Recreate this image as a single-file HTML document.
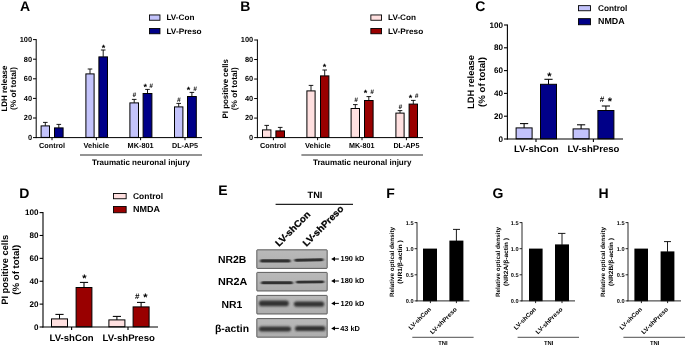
<!DOCTYPE html>
<html><head><meta charset="utf-8"><title>Figure</title>
<style>
html,body{margin:0;padding:0;background:#fff;}
body{width:685px;height:346px;overflow:hidden;font-family:"Liberation Sans",sans-serif;}
svg{display:block;}
svg text{font-family:"Liberation Sans",sans-serif;text-rendering:geometricPrecision;}
#all{filter:opacity(1);}
</style></head><body>
<svg width="685" height="346" viewBox="0 0 685 346">
<rect x="0" y="0" width="685" height="346" fill="#ffffff"/>
<g id="all">
<text x="20" y="11" font-size="14" font-weight="bold" text-anchor="start" fill="#000" >A</text>
<line x1="45.3" y1="122.4" x2="45.3" y2="125.9" stroke="#000" stroke-width="0.9"/>
<line x1="43.0" y1="122.4" x2="47.599999999999994" y2="122.4" stroke="#000" stroke-width="0.9"/>
<rect x="41.10" y="125.90" width="8.40" height="11.50" fill="#c3c3fb" stroke="#000" stroke-width="1.0"/>
<line x1="58.8" y1="124.4" x2="58.8" y2="127.9" stroke="#000" stroke-width="0.9"/>
<line x1="56.5" y1="124.4" x2="61.099999999999994" y2="124.4" stroke="#000" stroke-width="0.9"/>
<rect x="54.50" y="127.90" width="8.60" height="9.50" fill="#000088" stroke="#000" stroke-width="1.0"/>
<line x1="90.0" y1="69" x2="90.0" y2="73.9" stroke="#000" stroke-width="0.9"/>
<line x1="87.7" y1="69" x2="92.3" y2="69" stroke="#000" stroke-width="0.9"/>
<rect x="85.90" y="73.90" width="8.20" height="63.50" fill="#c3c3fb" stroke="#000" stroke-width="1.0"/>
<line x1="103.2" y1="50" x2="103.2" y2="56.9" stroke="#000" stroke-width="0.9"/>
<line x1="100.9" y1="50" x2="105.5" y2="50" stroke="#000" stroke-width="0.9"/>
<rect x="98.90" y="56.90" width="8.60" height="80.50" fill="#000088" stroke="#000" stroke-width="1.0"/>
<line x1="134.2" y1="99.4" x2="134.2" y2="102.9" stroke="#000" stroke-width="0.9"/>
<line x1="131.89999999999998" y1="99.4" x2="136.5" y2="99.4" stroke="#000" stroke-width="0.9"/>
<rect x="129.90" y="102.90" width="8.60" height="34.50" fill="#c3c3fb" stroke="#000" stroke-width="1.0"/>
<line x1="147.5" y1="89.4" x2="147.5" y2="93.5" stroke="#000" stroke-width="0.9"/>
<line x1="145.2" y1="89.4" x2="149.8" y2="89.4" stroke="#000" stroke-width="0.9"/>
<rect x="143.10" y="93.50" width="8.80" height="43.90" fill="#000088" stroke="#000" stroke-width="1.0"/>
<line x1="178.7" y1="103.4" x2="178.7" y2="106.9" stroke="#000" stroke-width="0.9"/>
<line x1="176.39999999999998" y1="103.4" x2="181.0" y2="103.4" stroke="#000" stroke-width="0.9"/>
<rect x="174.50" y="106.90" width="8.40" height="30.50" fill="#c3c3fb" stroke="#000" stroke-width="1.0"/>
<line x1="191.9" y1="92.4" x2="191.9" y2="96.5" stroke="#000" stroke-width="0.9"/>
<line x1="189.6" y1="92.4" x2="194.20000000000002" y2="92.4" stroke="#000" stroke-width="0.9"/>
<rect x="187.50" y="96.50" width="8.80" height="40.90" fill="#000088" stroke="#000" stroke-width="1.0"/>
<line x1="36.2" y1="39.1" x2="36.2" y2="138.1" stroke="#000" stroke-width="1.0"/>
<line x1="35.7" y1="137.6" x2="202" y2="137.6" stroke="#000" stroke-width="1.0"/>
<line x1="33.0" y1="137.6" x2="36.2" y2="137.6" stroke="#000" stroke-width="1.0"/>
<text x="32.0" y="139.95" font-size="7.4" font-weight="bold" text-anchor="end" fill="#000" >0</text>
<line x1="33.0" y1="118.0" x2="36.2" y2="118.0" stroke="#000" stroke-width="1.0"/>
<text x="32.0" y="120.35" font-size="7.4" font-weight="bold" text-anchor="end" fill="#000" >20</text>
<line x1="33.0" y1="98.39999999999999" x2="36.2" y2="98.39999999999999" stroke="#000" stroke-width="1.0"/>
<text x="32.0" y="100.75" font-size="7.4" font-weight="bold" text-anchor="end" fill="#000" >40</text>
<line x1="33.0" y1="78.8" x2="36.2" y2="78.8" stroke="#000" stroke-width="1.0"/>
<text x="32.0" y="81.15" font-size="7.4" font-weight="bold" text-anchor="end" fill="#000" >60</text>
<line x1="33.0" y1="59.19999999999999" x2="36.2" y2="59.19999999999999" stroke="#000" stroke-width="1.0"/>
<text x="32.0" y="61.55" font-size="7.4" font-weight="bold" text-anchor="end" fill="#000" >80</text>
<line x1="33.0" y1="39.599999999999994" x2="36.2" y2="39.599999999999994" stroke="#000" stroke-width="1.0"/>
<text x="32.0" y="41.95" font-size="7.4" font-weight="bold" text-anchor="end" fill="#000" >100</text>
<line x1="52" y1="137.6" x2="52" y2="140.2" stroke="#000" stroke-width="1.0"/>
<line x1="96.4" y1="137.6" x2="96.4" y2="140.2" stroke="#000" stroke-width="1.0"/>
<line x1="140.6" y1="137.6" x2="140.6" y2="140.2" stroke="#000" stroke-width="1.0"/>
<line x1="185" y1="137.6" x2="185" y2="140.2" stroke="#000" stroke-width="1.0"/>
<text x="39" y="148.0" font-size="7.3" font-weight="bold" text-anchor="start" fill="#000" textLength="26" lengthAdjust="spacingAndGlyphs" >Control</text>
<text x="83.6" y="148.0" font-size="7.3" font-weight="bold" text-anchor="start" fill="#000" textLength="25.4" lengthAdjust="spacingAndGlyphs" >Vehicle</text>
<text x="127.6" y="148.0" font-size="7.3" font-weight="bold" text-anchor="start" fill="#000" textLength="26.0" lengthAdjust="spacingAndGlyphs" >MK-801</text>
<text x="172" y="148.0" font-size="7.3" font-weight="bold" text-anchor="start" fill="#000" textLength="26" lengthAdjust="spacingAndGlyphs" >DL-AP5</text>
<line x1="80" y1="155" x2="202" y2="155" stroke="#2a2a2a" stroke-width="1.0"/>
<text x="92" y="164.8" font-size="8" font-weight="bold" text-anchor="start" fill="#000" textLength="98" lengthAdjust="spacingAndGlyphs" >Traumatic neuronal injury</text>
<text x="6.8" y="88.6" font-size="8" font-weight="bold" text-anchor="middle" fill="#000" textLength="46" lengthAdjust="spacingAndGlyphs" transform="rotate(-90 6.8 88.6)" >LDH release</text>
<text x="16.4" y="88.6" font-size="8" font-weight="bold" text-anchor="middle" fill="#000" textLength="43" lengthAdjust="spacingAndGlyphs" transform="rotate(-90 16.4 88.6)" >(% of total)</text>
<rect x="149.45" y="14.95" width="10.50" height="5.30" fill="#c3c3fb" stroke="#000" stroke-width="0.9"/>
<rect x="149.45" y="28.45" width="10.50" height="5.30" fill="#000088" stroke="#000" stroke-width="0.9"/>
<text x="166.4" y="20.0" font-size="8" font-weight="bold" text-anchor="start" fill="#000" textLength="28" lengthAdjust="spacingAndGlyphs" >LV-Con</text>
<text x="166.4" y="33.6" font-size="8" font-weight="bold" text-anchor="start" fill="#000" textLength="35.2" lengthAdjust="spacingAndGlyphs" >LV-Preso</text>
<text x="103.4" y="50.5" font-size="9" font-weight="bold" text-anchor="middle" fill="#000" >*</text>
<text x="134.3" y="97.2" font-size="6.5" font-weight="bold" text-anchor="middle" fill="#000" font-style="italic">#</text>
<text x="145.3" y="90.4" font-size="9" font-weight="bold" text-anchor="middle" fill="#000" >*</text>
<text x="151" y="88.1" font-size="6.5" font-weight="bold" text-anchor="middle" fill="#000" font-style="italic">#</text>
<text x="178.7" y="101.8" font-size="6.5" font-weight="bold" text-anchor="middle" fill="#000" font-style="italic">#</text>
<text x="188.5" y="93.4" font-size="9" font-weight="bold" text-anchor="middle" fill="#000" >*</text>
<text x="195" y="90.9" font-size="6.5" font-weight="bold" text-anchor="middle" fill="#000" font-style="italic">#</text>
<text x="240.3" y="11" font-size="14" font-weight="bold" text-anchor="start" fill="#000" >B</text>
<line x1="266.7" y1="125.4" x2="266.7" y2="129.9" stroke="#000" stroke-width="0.9"/>
<line x1="264.4" y1="125.4" x2="269.0" y2="125.4" stroke="#000" stroke-width="0.9"/>
<rect x="262.50" y="129.90" width="8.40" height="7.50" fill="#ffe0e0" stroke="#000" stroke-width="1.0"/>
<line x1="280.2" y1="127.4" x2="280.2" y2="130.9" stroke="#000" stroke-width="0.9"/>
<line x1="277.9" y1="127.4" x2="282.5" y2="127.4" stroke="#000" stroke-width="0.9"/>
<rect x="275.90" y="130.90" width="8.60" height="6.50" fill="#990000" stroke="#000" stroke-width="1.0"/>
<line x1="311.0" y1="85.4" x2="311.0" y2="90.9" stroke="#000" stroke-width="0.9"/>
<line x1="308.7" y1="85.4" x2="313.3" y2="85.4" stroke="#000" stroke-width="0.9"/>
<rect x="306.90" y="90.90" width="8.20" height="46.50" fill="#ffe0e0" stroke="#000" stroke-width="1.0"/>
<line x1="324.7" y1="70" x2="324.7" y2="75.9" stroke="#000" stroke-width="0.9"/>
<line x1="322.4" y1="70" x2="327.0" y2="70" stroke="#000" stroke-width="0.9"/>
<rect x="320.50" y="75.90" width="8.40" height="61.50" fill="#990000" stroke="#000" stroke-width="1.0"/>
<line x1="355.3" y1="104.6" x2="355.3" y2="108.5" stroke="#000" stroke-width="0.9"/>
<line x1="353.0" y1="104.6" x2="357.6" y2="104.6" stroke="#000" stroke-width="0.9"/>
<rect x="351.10" y="108.50" width="8.40" height="28.90" fill="#ffe0e0" stroke="#000" stroke-width="1.0"/>
<line x1="368.8" y1="96.6" x2="368.8" y2="100.5" stroke="#000" stroke-width="0.9"/>
<line x1="366.5" y1="96.6" x2="371.1" y2="96.6" stroke="#000" stroke-width="0.9"/>
<rect x="364.50" y="100.50" width="8.60" height="36.90" fill="#990000" stroke="#000" stroke-width="1.0"/>
<line x1="400.0" y1="110.6" x2="400.0" y2="113.1" stroke="#000" stroke-width="0.9"/>
<line x1="397.7" y1="110.6" x2="402.3" y2="110.6" stroke="#000" stroke-width="0.9"/>
<rect x="395.90" y="113.10" width="8.20" height="24.30" fill="#ffe0e0" stroke="#000" stroke-width="1.0"/>
<line x1="413.3" y1="100.4" x2="413.3" y2="104.1" stroke="#000" stroke-width="0.9"/>
<line x1="411.0" y1="100.4" x2="415.6" y2="100.4" stroke="#000" stroke-width="0.9"/>
<rect x="409.10" y="104.10" width="8.40" height="33.30" fill="#990000" stroke="#000" stroke-width="1.0"/>
<line x1="257.4" y1="39.5" x2="257.4" y2="138.1" stroke="#000" stroke-width="1.0"/>
<line x1="256.9" y1="137.6" x2="423" y2="137.6" stroke="#000" stroke-width="1.0"/>
<line x1="254.2" y1="137.6" x2="257.4" y2="137.6" stroke="#000" stroke-width="1.0"/>
<text x="253.2" y="139.95" font-size="7.4" font-weight="bold" text-anchor="end" fill="#000" >0</text>
<line x1="254.2" y1="118.08" x2="257.4" y2="118.08" stroke="#000" stroke-width="1.0"/>
<text x="253.2" y="120.43" font-size="7.4" font-weight="bold" text-anchor="end" fill="#000" >20</text>
<line x1="254.2" y1="98.56" x2="257.4" y2="98.56" stroke="#000" stroke-width="1.0"/>
<text x="253.2" y="100.91" font-size="7.4" font-weight="bold" text-anchor="end" fill="#000" >40</text>
<line x1="254.2" y1="79.04" x2="257.4" y2="79.04" stroke="#000" stroke-width="1.0"/>
<text x="253.2" y="81.39" font-size="7.4" font-weight="bold" text-anchor="end" fill="#000" >60</text>
<line x1="254.2" y1="59.519999999999996" x2="257.4" y2="59.519999999999996" stroke="#000" stroke-width="1.0"/>
<text x="253.2" y="61.87" font-size="7.4" font-weight="bold" text-anchor="end" fill="#000" >80</text>
<line x1="254.2" y1="40.0" x2="257.4" y2="40.0" stroke="#000" stroke-width="1.0"/>
<text x="253.2" y="42.35" font-size="7.4" font-weight="bold" text-anchor="end" fill="#000" >100</text>
<line x1="273.4" y1="137.6" x2="273.4" y2="140.2" stroke="#000" stroke-width="1.0"/>
<line x1="317.6" y1="137.6" x2="317.6" y2="140.2" stroke="#000" stroke-width="1.0"/>
<line x1="362" y1="137.6" x2="362" y2="140.2" stroke="#000" stroke-width="1.0"/>
<line x1="406.4" y1="137.6" x2="406.4" y2="140.2" stroke="#000" stroke-width="1.0"/>
<text x="260" y="148.0" font-size="7.3" font-weight="bold" text-anchor="start" fill="#000" textLength="26" lengthAdjust="spacingAndGlyphs" >Control</text>
<text x="305" y="148.0" font-size="7.3" font-weight="bold" text-anchor="start" fill="#000" textLength="25.6" lengthAdjust="spacingAndGlyphs" >Vehicle</text>
<text x="349" y="148.0" font-size="7.3" font-weight="bold" text-anchor="start" fill="#000" textLength="25.4" lengthAdjust="spacingAndGlyphs" >MK-801</text>
<text x="393.4" y="148.0" font-size="7.3" font-weight="bold" text-anchor="start" fill="#000" textLength="26.0" lengthAdjust="spacingAndGlyphs" >DL-AP5</text>
<line x1="301.4" y1="155" x2="423" y2="155" stroke="#2a2a2a" stroke-width="1.0"/>
<text x="313" y="164.8" font-size="8" font-weight="bold" text-anchor="start" fill="#000" textLength="98.4" lengthAdjust="spacingAndGlyphs" >Traumatic neuronal injury</text>
<text x="228.0" y="88.8" font-size="8" font-weight="bold" text-anchor="middle" fill="#000" textLength="59.5" lengthAdjust="spacingAndGlyphs" transform="rotate(-90 228.0 88.8)" >PI positive cells</text>
<text x="237.4" y="88.8" font-size="8" font-weight="bold" text-anchor="middle" fill="#000" textLength="43" lengthAdjust="spacingAndGlyphs" transform="rotate(-90 237.4 88.8)" >(% of total)</text>
<rect x="370.85" y="14.95" width="10.70" height="5.30" fill="#ffe0e0" stroke="#000" stroke-width="0.9"/>
<rect x="370.85" y="28.45" width="10.70" height="5.30" fill="#990000" stroke="#000" stroke-width="0.9"/>
<text x="388" y="20.0" font-size="8" font-weight="bold" text-anchor="start" fill="#000" textLength="28" lengthAdjust="spacingAndGlyphs" >LV-Con</text>
<text x="388" y="33.6" font-size="8" font-weight="bold" text-anchor="start" fill="#000" textLength="35.2" lengthAdjust="spacingAndGlyphs" >LV-Preso</text>
<text x="324.6" y="70.1" font-size="9" font-weight="bold" text-anchor="middle" fill="#000" >*</text>
<text x="356" y="102.1" font-size="6.5" font-weight="bold" text-anchor="middle" fill="#000" font-style="italic">#</text>
<text x="365.4" y="96.4" font-size="9" font-weight="bold" text-anchor="middle" fill="#000" >*</text>
<text x="372" y="93.9" font-size="6.5" font-weight="bold" text-anchor="middle" fill="#000" font-style="italic">#</text>
<text x="400.3" y="108.9" font-size="6.5" font-weight="bold" text-anchor="middle" fill="#000" font-style="italic">#</text>
<text x="410.6" y="100.8" font-size="9" font-weight="bold" text-anchor="middle" fill="#000" >*</text>
<text x="416.6" y="98.4" font-size="6.5" font-weight="bold" text-anchor="middle" fill="#000" font-style="italic">#</text>
<text x="475.2" y="11.2" font-size="14" font-weight="bold" text-anchor="start" fill="#000" >C</text>
<line x1="524.1" y1="123.6" x2="524.1" y2="127.9" stroke="#000" stroke-width="1.05"/>
<line x1="520.0" y1="123.6" x2="528.2" y2="123.6" stroke="#000" stroke-width="1.05"/>
<rect x="516.10" y="127.90" width="16.00" height="10.90" fill="#c3c3fb" stroke="#000" stroke-width="1.0"/>
<line x1="548.5" y1="79.3" x2="548.5" y2="84.3" stroke="#000" stroke-width="1.05"/>
<line x1="544.4" y1="79.3" x2="552.6" y2="79.3" stroke="#000" stroke-width="1.05"/>
<rect x="540.50" y="84.30" width="16.00" height="54.50" fill="#000088" stroke="#000" stroke-width="1.0"/>
<line x1="581.1" y1="124.8" x2="581.1" y2="128.9" stroke="#000" stroke-width="1.05"/>
<line x1="577.0" y1="124.8" x2="585.2" y2="124.8" stroke="#000" stroke-width="1.05"/>
<rect x="573.10" y="128.90" width="16.00" height="9.90" fill="#c3c3fb" stroke="#000" stroke-width="1.0"/>
<line x1="605.9" y1="106" x2="605.9" y2="110.5" stroke="#000" stroke-width="1.05"/>
<line x1="601.8" y1="106" x2="610.0" y2="106" stroke="#000" stroke-width="1.05"/>
<rect x="597.90" y="110.50" width="16.00" height="28.30" fill="#000088" stroke="#000" stroke-width="1.0"/>
<line x1="507.4" y1="24.5" x2="507.4" y2="139.5" stroke="#000" stroke-width="1.1"/>
<line x1="506.9" y1="139" x2="623" y2="139" stroke="#000" stroke-width="1.1"/>
<line x1="504.0" y1="139.0" x2="507.4" y2="139.0" stroke="#000" stroke-width="1.1"/>
<text x="503.0" y="141.6" font-size="8.1" font-weight="bold" text-anchor="end" fill="#000" >0</text>
<line x1="504.0" y1="116.2" x2="507.4" y2="116.2" stroke="#000" stroke-width="1.1"/>
<text x="503.0" y="118.8" font-size="8.1" font-weight="bold" text-anchor="end" fill="#000" >20</text>
<line x1="504.0" y1="93.4" x2="507.4" y2="93.4" stroke="#000" stroke-width="1.1"/>
<text x="503.0" y="96.0" font-size="8.1" font-weight="bold" text-anchor="end" fill="#000" >40</text>
<line x1="504.0" y1="70.6" x2="507.4" y2="70.6" stroke="#000" stroke-width="1.1"/>
<text x="503.0" y="73.2" font-size="8.1" font-weight="bold" text-anchor="end" fill="#000" >60</text>
<line x1="504.0" y1="47.8" x2="507.4" y2="47.8" stroke="#000" stroke-width="1.1"/>
<text x="503.0" y="50.4" font-size="8.1" font-weight="bold" text-anchor="end" fill="#000" >80</text>
<line x1="504.0" y1="25.0" x2="507.4" y2="25.0" stroke="#000" stroke-width="1.1"/>
<text x="503.0" y="27.6" font-size="8.1" font-weight="bold" text-anchor="end" fill="#000" >100</text>
<line x1="536" y1="139" x2="536" y2="142" stroke="#000" stroke-width="1.1"/>
<line x1="593.4" y1="139" x2="593.4" y2="142" stroke="#000" stroke-width="1.1"/>
<text x="514" y="152.4" font-size="9.4" font-weight="bold" text-anchor="start" fill="#000" textLength="44.6" lengthAdjust="spacingAndGlyphs" >LV-shCon</text>
<text x="567.4" y="152.4" font-size="9.4" font-weight="bold" text-anchor="start" fill="#000" textLength="52.0" lengthAdjust="spacingAndGlyphs" >LV-shPreso</text>
<text x="474.4" y="82.0" font-size="9.3" font-weight="bold" text-anchor="middle" fill="#000" textLength="54" lengthAdjust="spacingAndGlyphs" transform="rotate(-90 474.4 82.0)" >LDH release</text>
<text x="484.6" y="82.0" font-size="9.3" font-weight="bold" text-anchor="middle" fill="#000" textLength="50" lengthAdjust="spacingAndGlyphs" transform="rotate(-90 484.6 82.0)" >(% of total)</text>
<rect x="578.45" y="5.65" width="12.10" height="5.10" fill="#c3c3fb" stroke="#000" stroke-width="0.9"/>
<rect x="578.45" y="18.65" width="12.10" height="6.10" fill="#000088" stroke="#000" stroke-width="0.9"/>
<text x="598" y="11.1" font-size="8.4" font-weight="bold" text-anchor="start" fill="#000" textLength="29.4" lengthAdjust="spacingAndGlyphs" >Control</text>
<text x="598" y="24.3" font-size="8.8" font-weight="bold" text-anchor="start" fill="#000" textLength="26.6" lengthAdjust="spacingAndGlyphs" >NMDA</text>
<text x="549.5" y="80.2" font-size="11" font-weight="bold" text-anchor="middle" fill="#000" >*</text>
<text x="602.1" y="102.4" font-size="8" font-weight="bold" text-anchor="middle" fill="#000" >#</text>
<text x="609.9" y="105.2" font-size="11" font-weight="bold" text-anchor="middle" fill="#000" >*</text>
<text x="19.3" y="198.2" font-size="14" font-weight="bold" text-anchor="start" fill="#000" >D</text>
<line x1="59.5" y1="314.4" x2="59.5" y2="318.9" stroke="#000" stroke-width="1.05"/>
<line x1="55.4" y1="314.4" x2="63.6" y2="314.4" stroke="#000" stroke-width="1.05"/>
<rect x="51.50" y="318.90" width="16.00" height="7.90" fill="#ffe0e0" stroke="#000" stroke-width="1.0"/>
<line x1="84.0" y1="282.4" x2="84.0" y2="287.5" stroke="#000" stroke-width="1.05"/>
<line x1="79.9" y1="282.4" x2="88.1" y2="282.4" stroke="#000" stroke-width="1.05"/>
<rect x="76.10" y="287.50" width="15.80" height="39.30" fill="#990000" stroke="#000" stroke-width="1.0"/>
<line x1="116.9" y1="316.4" x2="116.9" y2="319.9" stroke="#000" stroke-width="1.05"/>
<line x1="112.80000000000001" y1="316.4" x2="121.0" y2="316.4" stroke="#000" stroke-width="1.05"/>
<rect x="108.90" y="319.90" width="16.00" height="6.90" fill="#ffe0e0" stroke="#000" stroke-width="1.0"/>
<line x1="141.1" y1="302.4" x2="141.1" y2="306.9" stroke="#000" stroke-width="1.05"/>
<line x1="137.0" y1="302.4" x2="145.2" y2="302.4" stroke="#000" stroke-width="1.05"/>
<rect x="133.10" y="306.90" width="16.00" height="19.90" fill="#990000" stroke="#000" stroke-width="1.0"/>
<line x1="43" y1="212.1" x2="43" y2="327.5" stroke="#000" stroke-width="1.1"/>
<line x1="42.5" y1="327" x2="158" y2="327" stroke="#000" stroke-width="1.1"/>
<line x1="39.6" y1="327.0" x2="43" y2="327.0" stroke="#000" stroke-width="1.1"/>
<text x="38.6" y="329.6" font-size="8.1" font-weight="bold" text-anchor="end" fill="#000" >0</text>
<line x1="39.6" y1="304.12" x2="43" y2="304.12" stroke="#000" stroke-width="1.1"/>
<text x="38.6" y="306.72" font-size="8.1" font-weight="bold" text-anchor="end" fill="#000" >20</text>
<line x1="39.6" y1="281.24" x2="43" y2="281.24" stroke="#000" stroke-width="1.1"/>
<text x="38.6" y="283.84" font-size="8.1" font-weight="bold" text-anchor="end" fill="#000" >40</text>
<line x1="39.6" y1="258.36" x2="43" y2="258.36" stroke="#000" stroke-width="1.1"/>
<text x="38.6" y="260.96" font-size="8.1" font-weight="bold" text-anchor="end" fill="#000" >60</text>
<line x1="39.6" y1="235.48" x2="43" y2="235.48" stroke="#000" stroke-width="1.1"/>
<text x="38.6" y="238.08" font-size="8.1" font-weight="bold" text-anchor="end" fill="#000" >80</text>
<line x1="39.6" y1="212.6" x2="43" y2="212.6" stroke="#000" stroke-width="1.1"/>
<text x="38.6" y="215.2" font-size="8.1" font-weight="bold" text-anchor="end" fill="#000" >100</text>
<line x1="71.6" y1="327" x2="71.6" y2="330" stroke="#000" stroke-width="1.1"/>
<line x1="128" y1="327" x2="128" y2="330" stroke="#000" stroke-width="1.1"/>
<text x="49.6" y="341" font-size="9.4" font-weight="bold" text-anchor="start" fill="#000" textLength="44.0" lengthAdjust="spacingAndGlyphs" >LV-shCon</text>
<text x="102.6" y="341" font-size="9.4" font-weight="bold" text-anchor="start" fill="#000" textLength="52.4" lengthAdjust="spacingAndGlyphs" >LV-shPreso</text>
<text x="7.6" y="269.8" font-size="9.3" font-weight="bold" text-anchor="middle" fill="#000" textLength="70" lengthAdjust="spacingAndGlyphs" transform="rotate(-90 7.6 269.8)" >PI positive cells</text>
<text x="19.4" y="269.8" font-size="9.3" font-weight="bold" text-anchor="middle" fill="#000" textLength="50" lengthAdjust="spacingAndGlyphs" transform="rotate(-90 19.4 269.8)" >(% of total)</text>
<rect x="113.45" y="193.45" width="12.70" height="5.30" fill="#ffe0e0" stroke="#000" stroke-width="0.9"/>
<rect x="113.45" y="206.45" width="12.70" height="6.30" fill="#990000" stroke="#000" stroke-width="0.9"/>
<text x="133" y="199.1" font-size="8.4" font-weight="bold" text-anchor="start" fill="#000" textLength="30" lengthAdjust="spacingAndGlyphs" >Control</text>
<text x="133" y="212.29999999999998" font-size="8.8" font-weight="bold" text-anchor="start" fill="#000" textLength="27" lengthAdjust="spacingAndGlyphs" >NMDA</text>
<text x="84.3" y="282.3" font-size="11" font-weight="bold" text-anchor="middle" fill="#000" >*</text>
<text x="137.3" y="298.5" font-size="8" font-weight="bold" text-anchor="middle" fill="#000" >#</text>
<text x="145.4" y="301.3" font-size="11" font-weight="bold" text-anchor="middle" fill="#000" >*</text>
<text x="218.2" y="195.3" font-size="14" font-weight="bold" text-anchor="start" fill="#000" >E</text>
<text x="307.6" y="198" font-size="9" font-weight="bold" text-anchor="start" fill="#000" textLength="14.8" lengthAdjust="spacingAndGlyphs" >TNI</text>
<line x1="275.6" y1="204.4" x2="353" y2="204.4" stroke="#222" stroke-width="1.2"/>
<text x="279" y="247" font-size="9.4" font-weight="bold" text-anchor="start" fill="#000" textLength="45.4" lengthAdjust="spacingAndGlyphs" transform="rotate(-45 279 247)" stroke="#000" stroke-width="0.25">LV-shCon</text>
<text x="306.5" y="247" font-size="9.4" font-weight="bold" text-anchor="start" fill="#000" textLength="53.3" lengthAdjust="spacingAndGlyphs" transform="rotate(-45 306.5 247)" stroke="#000" stroke-width="0.25">LV-shPreso</text>
<defs><filter id="bl" filterUnits="userSpaceOnUse" x="250" y="240" width="90" height="110"><feGaussianBlur stdDeviation="0.9 0.65"/></filter><filter id="bl2" filterUnits="userSpaceOnUse" x="250" y="240" width="90" height="110"><feGaussianBlur stdDeviation="1.1 0.85"/></filter><linearGradient id="bg" x1="0" y1="0" x2="0" y2="1"><stop offset="0" stop-color="#b9b9b9"/><stop offset="0.5" stop-color="#b4b4b4"/><stop offset="1" stop-color="#adadad"/></linearGradient></defs>
<rect x="256.8" y="249.8" width="70.4" height="18.6" rx="0.6" fill="url(#bg)" stroke="#3c3c3c" stroke-width="0.8"/>
<rect x="256.8" y="272.4" width="70.4" height="18.6" rx="0.6" fill="url(#bg)" stroke="#3c3c3c" stroke-width="0.8"/>
<rect x="256.8" y="295.4" width="70.4" height="18.6" rx="0.6" fill="url(#bg)" stroke="#3c3c3c" stroke-width="0.8"/>
<rect x="256.8" y="318.59999999999997" width="70.4" height="18.6" rx="0.6" fill="url(#bg)" stroke="#3c3c3c" stroke-width="0.8"/>
<g filter="url(#bl)"><rect x="260" y="259.35" width="30.7" height="3.1" rx="1.55" fill="#303030" opacity="1"/></g>
<g filter="url(#bl)"><rect x="294.3" y="258.55" width="29.2" height="2.9" rx="1.45" fill="#303030" opacity="1" transform="rotate(-1.3 308.9 260.0)"/></g>
<g filter="url(#bl)"><rect x="261" y="281.25" width="32.0" height="3.1" rx="1.55" fill="#303030" opacity="1"/></g>
<g filter="url(#bl)"><rect x="296" y="280.60" width="28.2" height="2.8" rx="1.4" fill="#303030" opacity="1" transform="rotate(-0.8 310.1 282.0)"/></g>
<g filter="url(#bl2)"><rect x="258.9" y="300.60" width="29.9" height="5.6" rx="2.8" fill="#303030" opacity="1"/></g>
<g filter="url(#bl2)"><rect x="293.9" y="301.50" width="30.3" height="5.2" rx="2.6" fill="#303030" opacity="1"/></g>
<g filter="url(#bl2)"><rect x="258.9" y="326.50" width="32.1" height="5.0" rx="2.5" fill="#303030" opacity="1"/></g>
<g filter="url(#bl2)"><rect x="295" y="325.90" width="30.4" height="5.2" rx="2.6" fill="#303030" opacity="1"/></g>
<text x="218" y="263.2" font-size="10.3" font-weight="bold" text-anchor="start" fill="#000" textLength="28.4" lengthAdjust="spacingAndGlyphs" >NR2B</text>
<text x="218" y="285.3" font-size="10.3" font-weight="bold" text-anchor="start" fill="#000" textLength="29.4" lengthAdjust="spacingAndGlyphs" >NR2A</text>
<text x="221.6" y="308" font-size="10.3" font-weight="bold" text-anchor="start" fill="#000" textLength="20.8" lengthAdjust="spacingAndGlyphs" >NR1</text>
<text x="215" y="332" font-size="10.3" font-weight="bold" text-anchor="start" fill="#000" textLength="34" lengthAdjust="spacingAndGlyphs" >β-actin</text>
<line x1="333.2" y1="259" x2="338.9" y2="259" stroke="#000" stroke-width="1.0"/>
<path d="M331.2 259 L335 256.8 L335 261.2 Z" fill="#000"/>
<text x="340.6" y="261.2" font-size="7.3" font-weight="bold" text-anchor="start" fill="#000" textLength="23.8" lengthAdjust="spacingAndGlyphs" >190 kD</text>
<line x1="333.2" y1="281" x2="338.9" y2="281" stroke="#000" stroke-width="1.0"/>
<path d="M331.2 281 L335 278.8 L335 283.2 Z" fill="#000"/>
<text x="340.6" y="283.2" font-size="7.3" font-weight="bold" text-anchor="start" fill="#000" textLength="23.8" lengthAdjust="spacingAndGlyphs" >180 kD</text>
<line x1="333.2" y1="303.4" x2="338.9" y2="303.4" stroke="#000" stroke-width="1.0"/>
<path d="M331.2 303.4 L335 301.2 L335 305.59999999999997 Z" fill="#000"/>
<text x="340.6" y="305.59999999999997" font-size="7.3" font-weight="bold" text-anchor="start" fill="#000" textLength="23.8" lengthAdjust="spacingAndGlyphs" >120 kD</text>
<line x1="333.2" y1="328.4" x2="338.9" y2="328.4" stroke="#000" stroke-width="1.0"/>
<path d="M331.2 328.4 L335 326.2 L335 330.59999999999997 Z" fill="#000"/>
<text x="340.2" y="330.59999999999997" font-size="7.3" font-weight="bold" text-anchor="start" fill="#000" textLength="19.8" lengthAdjust="spacingAndGlyphs" >43 kD</text>
<text x="386.2" y="198.2" font-size="14" font-weight="bold" text-anchor="start" fill="#000" >F</text>
<line x1="456.4" y1="229.4" x2="456.4" y2="241.1" stroke="#000" stroke-width="0.9"/>
<line x1="453" y1="229.4" x2="460" y2="229.4" stroke="#000" stroke-width="0.9"/>
<rect x="423" y="248.6" width="14.0" height="52.6" fill="#000"/>
<rect x="449.4" y="240.6" width="14.0" height="60.6" fill="#000"/>
<line x1="417" y1="222.2" x2="417" y2="301.29999999999995" stroke="#111" stroke-width="0.9"/>
<line x1="416.6" y1="300.9" x2="469.4" y2="300.9" stroke="#111" stroke-width="0.9"/>
<line x1="414.6" y1="300.9" x2="417" y2="300.9" stroke="#111" stroke-width="0.9"/>
<text x="413.6" y="302.9" font-size="5.6" font-weight="bold" text-anchor="end" fill="#000" >0.0</text>
<line x1="414.6" y1="274.79999999999995" x2="417" y2="274.79999999999995" stroke="#111" stroke-width="0.9"/>
<text x="413.6" y="276.79999999999995" font-size="5.6" font-weight="bold" text-anchor="end" fill="#000" >0.5</text>
<line x1="414.6" y1="248.7" x2="417" y2="248.7" stroke="#111" stroke-width="0.9"/>
<text x="413.6" y="250.7" font-size="5.6" font-weight="bold" text-anchor="end" fill="#000" >1.0</text>
<line x1="414.6" y1="222.6" x2="417" y2="222.6" stroke="#111" stroke-width="0.9"/>
<text x="413.6" y="224.6" font-size="5.6" font-weight="bold" text-anchor="end" fill="#000" >1.5</text>
<line x1="430.4" y1="300.9" x2="430.4" y2="303.09999999999997" stroke="#111" stroke-width="0.9"/>
<line x1="456.4" y1="300.9" x2="456.4" y2="303.09999999999997" stroke="#111" stroke-width="0.9"/>
<text x="431.4" y="309.7" font-size="6.1" font-weight="bold" text-anchor="end" fill="#000" textLength="28.9" lengthAdjust="spacingAndGlyphs" transform="rotate(-45 431.4 309.7)" >LV-shCon</text>
<text x="457.4" y="309.7" font-size="6.1" font-weight="bold" text-anchor="end" fill="#000" textLength="35.2" lengthAdjust="spacingAndGlyphs" transform="rotate(-45 457.4 309.7)" >LV-shPreso</text>
<line x1="412.3" y1="337.3" x2="473.6" y2="337.3" stroke="#222" stroke-width="0.8"/>
<text x="438.3" y="345.4" font-size="6" font-weight="bold" text-anchor="start" fill="#000" textLength="9.4" lengthAdjust="spacingAndGlyphs" >TNI</text>
<text x="394.4" y="262.0" font-size="6.2" font-weight="bold" text-anchor="middle" fill="#000" textLength="70.2" lengthAdjust="spacingAndGlyphs" transform="rotate(-90 394.4 262.0)" >Relative optical density</text>
<text x="402.2" y="262.0" font-size="6.2" font-weight="bold" text-anchor="middle" fill="#000" textLength="43.3" lengthAdjust="spacingAndGlyphs" transform="rotate(-90 402.2 262.0)" >(NR1/β-actin )</text>
<text x="492.6" y="198.2" font-size="14" font-weight="bold" text-anchor="start" fill="#000" >G</text>
<line x1="562.0" y1="233.4" x2="562.0" y2="244.9" stroke="#000" stroke-width="0.9"/>
<line x1="558" y1="233.4" x2="565.4" y2="233.4" stroke="#000" stroke-width="0.9"/>
<rect x="529" y="248.6" width="13.6" height="52.6" fill="#000"/>
<rect x="555" y="244.4" width="14.0" height="56.8" fill="#000"/>
<line x1="522" y1="222.2" x2="522" y2="301.29999999999995" stroke="#111" stroke-width="0.9"/>
<line x1="521.6" y1="300.9" x2="575" y2="300.9" stroke="#111" stroke-width="0.9"/>
<line x1="519.6" y1="300.9" x2="522" y2="300.9" stroke="#111" stroke-width="0.9"/>
<text x="518.6" y="302.9" font-size="5.6" font-weight="bold" text-anchor="end" fill="#000" >0.0</text>
<line x1="519.6" y1="274.79999999999995" x2="522" y2="274.79999999999995" stroke="#111" stroke-width="0.9"/>
<text x="518.6" y="276.79999999999995" font-size="5.6" font-weight="bold" text-anchor="end" fill="#000" >0.5</text>
<line x1="519.6" y1="248.7" x2="522" y2="248.7" stroke="#111" stroke-width="0.9"/>
<text x="518.6" y="250.7" font-size="5.6" font-weight="bold" text-anchor="end" fill="#000" >1.0</text>
<line x1="519.6" y1="222.6" x2="522" y2="222.6" stroke="#111" stroke-width="0.9"/>
<text x="518.6" y="224.6" font-size="5.6" font-weight="bold" text-anchor="end" fill="#000" >1.5</text>
<line x1="535.6" y1="300.9" x2="535.6" y2="303.09999999999997" stroke="#111" stroke-width="0.9"/>
<line x1="562" y1="300.9" x2="562" y2="303.09999999999997" stroke="#111" stroke-width="0.9"/>
<text x="536.6" y="309.7" font-size="6.1" font-weight="bold" text-anchor="end" fill="#000" textLength="28.9" lengthAdjust="spacingAndGlyphs" transform="rotate(-45 536.6 309.7)" >LV-shCon</text>
<text x="563" y="309.7" font-size="6.1" font-weight="bold" text-anchor="end" fill="#000" textLength="35.2" lengthAdjust="spacingAndGlyphs" transform="rotate(-45 563 309.7)" >LV-shPreso</text>
<line x1="517.6" y1="337.3" x2="579" y2="337.3" stroke="#222" stroke-width="0.8"/>
<text x="544" y="345.4" font-size="6" font-weight="bold" text-anchor="start" fill="#000" textLength="9.4" lengthAdjust="spacingAndGlyphs" >TNI</text>
<text x="500.3" y="262.0" font-size="6.2" font-weight="bold" text-anchor="middle" fill="#000" textLength="70.2" lengthAdjust="spacingAndGlyphs" transform="rotate(-90 500.3 262.0)" >Relative optical density</text>
<text x="508.1" y="262.0" font-size="6.2" font-weight="bold" text-anchor="middle" fill="#000" textLength="48" lengthAdjust="spacingAndGlyphs" transform="rotate(-90 508.1 262.0)" >(NR2A/β-actin )</text>
<text x="598.4" y="198.2" font-size="14" font-weight="bold" text-anchor="start" fill="#000" >H</text>
<line x1="667.5" y1="241.6" x2="667.5" y2="251.9" stroke="#000" stroke-width="0.9"/>
<line x1="664" y1="241.6" x2="671" y2="241.6" stroke="#000" stroke-width="0.9"/>
<rect x="634.4" y="248.6" width="13.6" height="52.6" fill="#000"/>
<rect x="660.6" y="251.4" width="13.8" height="49.8" fill="#000"/>
<line x1="628" y1="222.2" x2="628" y2="301.29999999999995" stroke="#111" stroke-width="0.9"/>
<line x1="627.6" y1="300.9" x2="681" y2="300.9" stroke="#111" stroke-width="0.9"/>
<line x1="625.6" y1="300.9" x2="628" y2="300.9" stroke="#111" stroke-width="0.9"/>
<text x="624.6" y="302.9" font-size="5.6" font-weight="bold" text-anchor="end" fill="#000" >0.0</text>
<line x1="625.6" y1="274.79999999999995" x2="628" y2="274.79999999999995" stroke="#111" stroke-width="0.9"/>
<text x="624.6" y="276.79999999999995" font-size="5.6" font-weight="bold" text-anchor="end" fill="#000" >0.5</text>
<line x1="625.6" y1="248.7" x2="628" y2="248.7" stroke="#111" stroke-width="0.9"/>
<text x="624.6" y="250.7" font-size="5.6" font-weight="bold" text-anchor="end" fill="#000" >1.0</text>
<line x1="625.6" y1="222.6" x2="628" y2="222.6" stroke="#111" stroke-width="0.9"/>
<text x="624.6" y="224.6" font-size="5.6" font-weight="bold" text-anchor="end" fill="#000" >1.5</text>
<line x1="641.4" y1="300.9" x2="641.4" y2="303.09999999999997" stroke="#111" stroke-width="0.9"/>
<line x1="667.6" y1="300.9" x2="667.6" y2="303.09999999999997" stroke="#111" stroke-width="0.9"/>
<text x="642.4" y="309.7" font-size="6.1" font-weight="bold" text-anchor="end" fill="#000" textLength="28.9" lengthAdjust="spacingAndGlyphs" transform="rotate(-45 642.4 309.7)" >LV-shCon</text>
<text x="668.6" y="309.7" font-size="6.1" font-weight="bold" text-anchor="end" fill="#000" textLength="35.2" lengthAdjust="spacingAndGlyphs" transform="rotate(-45 668.6 309.7)" >LV-shPreso</text>
<line x1="623.4" y1="337.3" x2="685" y2="337.3" stroke="#222" stroke-width="0.8"/>
<text x="650" y="345.4" font-size="6" font-weight="bold" text-anchor="start" fill="#000" textLength="9.4" lengthAdjust="spacingAndGlyphs" >TNI</text>
<text x="605.0" y="262.0" font-size="6.2" font-weight="bold" text-anchor="middle" fill="#000" textLength="70.2" lengthAdjust="spacingAndGlyphs" transform="rotate(-90 605.0 262.0)" >Relative optical density</text>
<text x="612.7" y="262.0" font-size="6.2" font-weight="bold" text-anchor="middle" fill="#000" textLength="48" lengthAdjust="spacingAndGlyphs" transform="rotate(-90 612.7 262.0)" >(NR2B/β-actin )</text>
</g>
</svg>
</body></html>
